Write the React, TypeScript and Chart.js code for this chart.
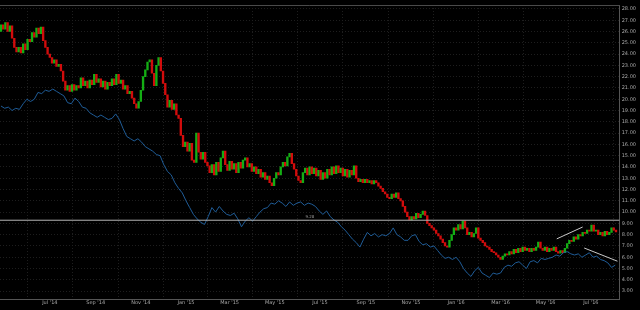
import React, { useEffect, useRef } from 'react';
import { Chart, registerables } from 'chart.js';

Chart.register(...registerables);

// x values are days counted from 1 Jul 2014
const tickDays = [-61, 0, 62, 123, 184, 243, 304, 365, 427, 488, 549, 609, 670, 731];
const tickLabels = ['', "Jul '14", "Sep '14", "Nov '14", "Jan '15", "Mar '15", "May '15", "Jul '15", "Sep '15", "Nov '15", "Jan '16", "Mar '16", "May '16", "Jul '16"];

// price candles: one every 3 days from day -66
const candleFirstDay = -66;
const candleStepDays = 3;
const firstOpen = 26.0;

const closes = [
  26.6, 26.2, 26.8, 26.0, 26.5, 25.4, 24.6, 24.2, 24.6, 24.1,
  24.9, 24.4, 25.3, 25.1, 25.9, 25.5, 26.3, 25.8, 26.4, 25.2,
  24.6, 24.0, 23.7, 23.2, 23.5, 22.9, 23.1, 22.5, 21.6, 20.8,
  21.2, 20.7, 21.3, 20.8, 21.2, 21.0, 21.9, 21.2, 21.6, 21.0,
  21.7, 21.3, 22.2, 21.5, 21.8, 21.1, 21.6, 20.9, 21.5, 21.2,
  21.8, 21.3, 22.2, 21.4, 21.7, 20.9, 21.2, 20.5, 20.7, 20.1,
  19.6, 19.2, 19.8, 20.8, 22.0, 22.6, 23.3, 23.5, 22.3, 21.2,
  23.0, 23.7, 22.5, 21.4, 20.4, 19.3, 19.9, 19.1, 19.6, 18.6,
  18.3, 16.8, 15.8, 16.2, 15.4, 16.1, 14.6, 14.4, 17.0, 15.3,
  14.7, 15.3, 14.4, 14.1, 13.5, 14.2, 13.3, 14.4, 13.6, 14.8,
  15.4, 14.2, 13.7, 14.5, 13.8, 14.3, 13.5, 14.4, 13.9, 14.6,
  14.8, 14.0, 14.3, 13.6, 14.0, 13.4, 13.8, 13.1, 13.5, 12.9,
  13.2, 12.6, 12.35, 13.0, 13.5, 13.3, 14.0, 14.4, 14.1, 14.9,
  15.2, 14.3, 13.8, 13.2, 12.8, 12.6, 13.5, 13.9, 13.3, 14.0,
  13.4, 13.9, 13.2, 13.7, 12.9, 13.5, 13.0, 13.8, 13.3, 14.0,
  13.4, 14.1, 13.5, 13.9, 13.2, 13.8, 13.1, 13.7, 13.3, 14.1,
  13.0, 12.7, 12.9, 12.6, 12.9, 12.6, 12.8, 12.5, 12.8, 12.6,
  12.3, 12.1, 11.8, 11.6, 11.3, 11.2, 11.6, 11.3, 11.7, 11.2,
  11.0, 10.5, 10.0, 9.6, 9.3, 9.6, 9.4, 9.9, 9.5, 9.8,
  10.1, 9.7, 9.0, 8.8, 8.6, 8.4, 8.1, 7.9, 7.6, 7.3,
  7.0, 6.9, 7.5, 8.0, 8.6, 8.4, 8.9, 8.5, 9.2, 8.6,
  8.0, 8.2, 7.8, 8.1, 8.6, 7.7, 7.5, 7.3, 7.0, 6.9,
  6.7, 6.5, 6.4, 6.2, 6.0, 5.8, 6.1, 6.3, 6.2, 6.5,
  6.3, 6.7, 6.4, 6.8, 6.5, 6.9, 6.6, 6.8, 6.5, 6.8,
  6.6, 6.9, 7.35, 6.8, 6.6, 6.9, 6.5, 6.8, 6.6, 6.9,
  6.5, 6.35, 6.6, 6.4, 6.8, 7.2, 7.5, 7.4, 7.8, 7.6,
  8.0, 7.9, 8.2, 8.1, 8.4, 8.3, 8.85, 8.3, 8.4, 8.0,
  8.2, 7.9, 8.3, 8.0, 8.2, 8.6, 8.4, 8.25,
];

// comparison line: one point every 5 days from day -66
const lineFirstDay = -66;
const lineStepDays = 5;
const compareSeries = [
  19.4, 19.2, 19.3, 19.0, 19.2, 19.1, 19.6, 20.0, 19.8, 20.0,
  20.6, 20.5, 20.8, 20.7, 20.9, 20.7, 20.5, 20.3, 19.7, 19.6,
  20.1, 19.8, 19.3, 19.2, 18.8, 18.6, 18.4, 18.6, 18.4, 18.2,
  18.3, 18.7, 18.2, 17.4, 16.7, 16.5, 16.3, 16.5, 16.2, 15.8,
  15.6, 15.4, 15.1, 15.0, 14.2, 13.6, 13.3, 12.6, 12.1, 11.7,
  11.0, 10.4, 9.8, 9.4, 9.1, 8.9, 9.6, 10.4, 10.0, 10.5,
  10.1, 9.8, 9.7, 9.9, 9.4, 8.7, 9.2, 9.5, 9.2, 9.6,
  10.0, 10.3, 10.4, 10.8, 10.7, 11.0, 10.8, 10.5, 10.9, 10.6,
  10.8, 10.9, 10.6, 10.8, 10.7, 10.5, 10.1, 9.8, 10.1, 9.6,
  9.3, 9.1, 8.7, 8.4, 8.0, 7.6, 7.3, 6.9, 7.6, 8.2,
  7.9, 8.1, 7.8, 8.0, 7.9, 8.1, 8.6, 8.0, 7.8, 7.5,
  7.5, 7.9, 8.0, 7.4, 7.1, 7.2, 6.9, 7.0, 6.6, 6.2,
  5.9, 6.0, 5.8, 6.0, 5.6, 5.0, 4.6, 4.3, 4.8, 5.1,
  4.6, 4.4, 4.2, 4.6, 4.5, 4.6, 5.1, 5.3, 5.2, 5.5,
  5.6, 5.3, 5.0, 5.6, 5.7, 5.5, 5.9, 5.8, 5.9, 6.0,
  6.2, 6.1, 6.4, 6.5, 6.3, 6.2, 6.3, 6.0, 6.2, 6.4,
  6.0, 6.1, 5.8, 5.7, 5.5, 5.1, 5.3,
];

const levelValue = 9.28;
const trendUpDays = [685, 720];
const trendUpValues = [7.63, 8.68];
const trendDownDays = [722, 767];
const trendDownValues = [6.82, 5.65];

const xMin = -67.3;
const xMax = 770;
const yMin = 2.3;
const yMax = 28.35;

const FONT = 'DejaVu Sans';

const framePlugin = {
  id: 'frame',
  beforeDraw(chart: any) {
    const { ctx, width, height } = chart;
    ctx.save();
    ctx.fillStyle = '#000';
    ctx.fillRect(0, 0, width, height);
    ctx.restore();
  },
  afterDraw(chart: any) {
    const { ctx, chartArea } = chart;
    ctx.save();
    ctx.strokeStyle = '#4a4a4a';
    ctx.lineWidth = 1;
    ctx.beginPath();
    ctx.moveTo(chartArea.left, chartArea.top + 0.5);
    ctx.lineTo(chartArea.right, chartArea.top + 0.5);
    ctx.stroke();
    const y = chart.scales.y.getPixelForValue(levelValue);
    ctx.fillStyle = '#999';
    ctx.font = `4px "${FONT}"`;
    ctx.textAlign = 'center';
    ctx.textBaseline = 'bottom';
    ctx.fillText(levelValue.toFixed(2), (chartArea.left + chartArea.right) / 2, y - 1);
    ctx.restore();
  },
};

export default function App() {
  const ref = useRef<HTMLCanvasElement | null>(null);
  useEffect(() => {
    document.body.style.margin = '0';
    document.body.style.background = '#000';
    const opens = [firstOpen, ...closes.slice(0, -1)];
    const cx = closes.map((_, i) => candleFirstDay + i * candleStepDays);
    const lx = compareSeries.map((_, i) => lineFirstDay + i * lineStepDays);
    const colors = closes.map((c, i) => (c >= opens[i] ? '#14ae14' : '#d20c0c'));
    const chart = new Chart(ref.current as HTMLCanvasElement, {
      type: 'bar',
      data: {
        datasets: [
          {
            type: 'line',
            data: trendUpDays.map((d, i) => ({ x: d, y: trendUpValues[i] })),
            borderColor: '#c8c8c8',
            borderWidth: 1,
            pointRadius: 0,
            order: 0,
          } as any,
          {
            type: 'line',
            data: trendDownDays.map((d, i) => ({ x: d, y: trendDownValues[i] })),
            borderColor: '#c8c8c8',
            borderWidth: 1,
            pointRadius: 0,
            order: 0,
          } as any,
          {
            type: 'line',
            data: [{ x: xMin, y: levelValue }, { x: xMax, y: levelValue }],
            borderColor: '#b4b4b4',
            borderWidth: 1,
            pointRadius: 0,
            order: 1,
          } as any,
          {
            type: 'line',
            data: lx.map((x, i) => ({ x, y: compareSeries[i] })),
            borderColor: '#1f5c97',
            borderWidth: 1,
            pointRadius: 0,
            tension: 0,
            order: 2,
          } as any,
          {
            type: 'bar',
            data: cx.map((x, i) => ({ x, y: [opens[i], closes[i]] })),
            backgroundColor: colors,
            borderWidth: 0,
            barThickness: 1.7,
            grouped: false,
            order: 3,
          } as any,
        ],
      },
      options: {
        responsive: false,
        animation: false,
        devicePixelRatio: 1,
        layout: { padding: { top: 2, right: 2, left: 0, bottom: 3 } },
        plugins: { legend: { display: false }, tooltip: { enabled: false } },
        scales: {
          x: {
            type: 'linear',
            min: xMin,
            max: xMax,
            offset: false,
            afterBuildTicks: (scale: any) => {
              scale.ticks = tickDays.map((v) => ({ value: v }));
            },
            ticks: {
              autoSkip: false,
              maxRotation: 0,
              padding: 1,
              color: '#a8a8a8',
              font: { family: FONT, size: 5 },
              callback: (v: any) => {
                const k = tickDays.indexOf(Number(v));
                return k >= 0 ? tickLabels[k] : '';
              },
            },
            grid: { color: '#1e1e1e', drawTicks: false, lineWidth: 1 },
            border: { color: '#555', dash: [1, 2] },
          },
          y: {
            type: 'linear',
            position: 'right',
            min: yMin,
            max: yMax,
            ticks: {
              stepSize: 1,
              includeBounds: false,
              padding: 2,
              color: '#a8a8a8',
              font: { family: FONT, size: 5 },
              callback: (v: any) => Number(v).toFixed(2),
            },
            grid: { color: '#1e1e1e', drawTicks: false, lineWidth: 1 },
            border: { color: '#555', dash: [1, 2] },
          },
        },
      } as any,
      plugins: [framePlugin],
    });
    return () => chart.destroy();
  }, []);
  return <canvas ref={ref} width={640} height={310} style={{ display: 'block' }} />;
}
